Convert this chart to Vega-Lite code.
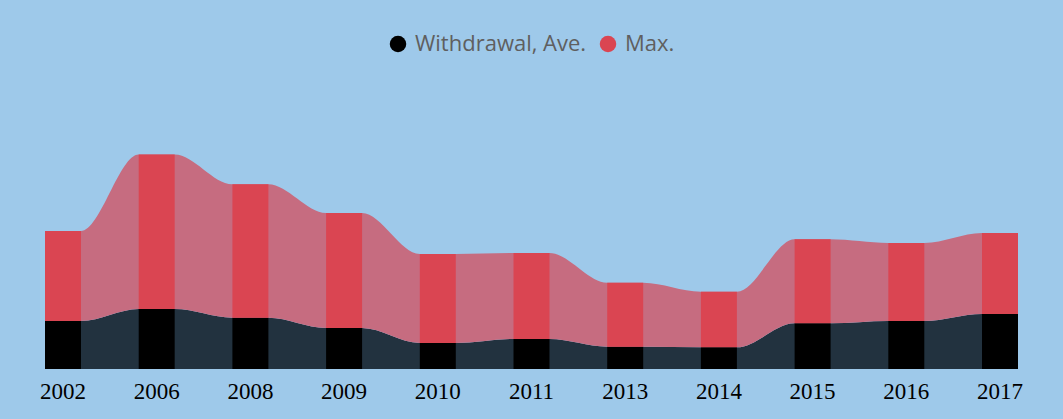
{
  "$schema": "https://vega.github.io/schema/vega-lite/v6.json",
  "width": 973,
  "height": 309,
  "autosize": {"type": "none"},
  "padding": {"left": 45, "top": 60, "right": 45, "bottom": 50},
  "background": "#9ec9ea",
  "config": {"view": {"stroke": null}},
  "data": {
    "values": [
      {"year": "2002", "series": "Withdrawal, Ave.", "value": 48},
      {"year": "2002", "series": "Max.", "value": 90},
      {"year": "2006", "series": "Withdrawal, Ave.", "value": 60},
      {"year": "2006", "series": "Max.", "value": 154.5},
      {"year": "2008", "series": "Withdrawal, Ave.", "value": 51.3},
      {"year": "2008", "series": "Max.", "value": 133.4},
      {"year": "2009", "series": "Withdrawal, Ave.", "value": 41},
      {"year": "2009", "series": "Max.", "value": 115},
      {"year": "2010", "series": "Withdrawal, Ave.", "value": 26},
      {"year": "2010", "series": "Max.", "value": 89},
      {"year": "2011", "series": "Withdrawal, Ave.", "value": 30},
      {"year": "2011", "series": "Max.", "value": 86},
      {"year": "2013", "series": "Withdrawal, Ave.", "value": 22.3},
      {"year": "2013", "series": "Max.", "value": 64},
      {"year": "2014", "series": "Withdrawal, Ave.", "value": 21.7},
      {"year": "2014", "series": "Max.", "value": 55.6},
      {"year": "2015", "series": "Withdrawal, Ave.", "value": 45.7},
      {"year": "2015", "series": "Max.", "value": 84},
      {"year": "2016", "series": "Withdrawal, Ave.", "value": 48},
      {"year": "2016", "series": "Max.", "value": 78},
      {"year": "2017", "series": "Withdrawal, Ave.", "value": 55},
      {"year": "2017", "series": "Max.", "value": 81}
    ]
  },
  "transform": [
    {"stack": "value", "groupby": ["year"], "sort": [{"field": "series", "order": "descending"}], "as": ["v0", "v1"]}
  ],
  "encoding": {
    "x": {
      "field": "year",
      "type": "ordinal",
      "scale": {"paddingInner": 0.616, "paddingOuter": 0},
      "axis": {
        "title": null,
        "domain": false,
        "ticks": false,
        "grid": false,
        "labelAngle": 0,
        "labelFont": "Liberation Serif",
        "labelFontSize": 23,
        "labelColor": "#000000",
        "labelPadding": 11
      }
    },
    "y": {"field": "v1", "type": "quantitative", "scale": {"domain": [0, 309], "nice": false}, "axis": null},
    "y2": {"field": "v0"}
  },
  "layer": [
    {
      "transform": [{"fold": ["left", "right"], "as": ["edge", "edgeValue"]}],
      "mark": {"type": "area", "interpolate": "monotone"},
      "encoding": {
        "xOffset": {"field": "edge", "type": "nominal", "scale": {"type": "point", "padding": 0}},
        "color": {
          "field": "series",
          "type": "nominal",
          "scale": {"domain": ["Withdrawal, Ave.", "Max."], "range": ["#22323f", "#c66c80"]},
          "legend": null
        },
        "order": [{"field": "year", "type": "ordinal"}, {"field": "edge", "type": "nominal"}]
      }
    },
    {
      "mark": {"type": "bar"},
      "encoding": {
        "color": {
          "field": "series",
          "type": "nominal",
          "scale": {"domain": ["Withdrawal, Ave.", "Max."], "range": ["#000000", "#da4552"]},
          "legend": {
            "title": null,
            "orient": "none",
            "legendX": 342,
            "legendY": -27,
            "direction": "horizontal",
            "symbolType": "circle",
            "symbolSize": 272,
            "symbolStrokeWidth": 0,
            "labelFont": "Open Sans",
            "labelFontSize": 22,
            "labelLimit": 400,
            "labelColor": "#5f5f5f",
            "labelOffset": 6,
            "columnPadding": 10
          }
        }
      }
    }
  ],
  "resolve": {"scale": {"color": "independent", "xOffset": "independent"}}
}
